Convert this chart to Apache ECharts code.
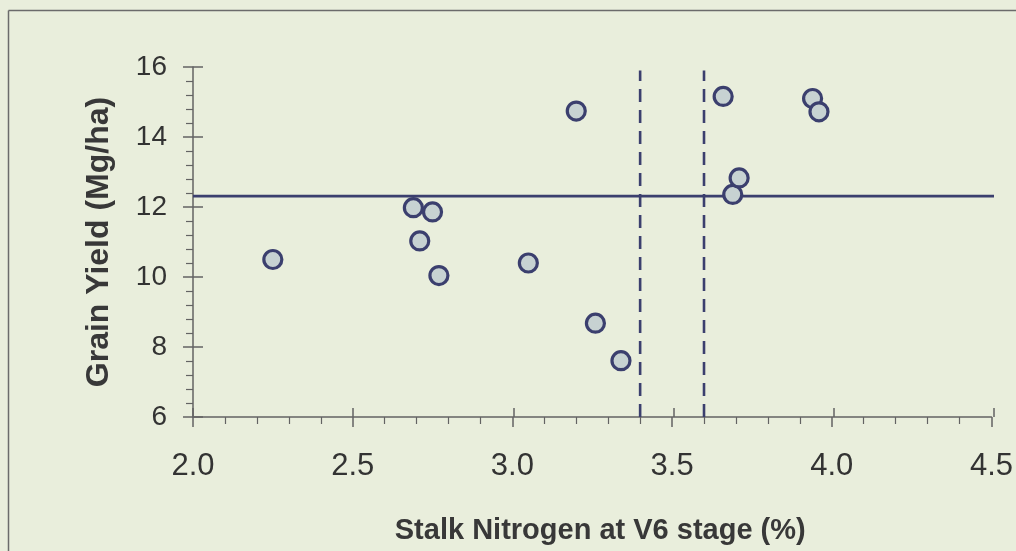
<!DOCTYPE html>
<html>
<head>
<meta charset="utf-8">
<script src="https://cdn.jsdelivr.net/npm/echarts@6/dist/echarts.min.js"></script>
<style>
html,body{margin:0;padding:0;background:#e9eedc;}
#c{width:1016px;height:551px;}
</style>
</head>
<body>
<div id="c"></div>
<script>
// Data
var stalkN = [2.25, 2.69, 2.71, 2.75, 2.77, 3.05, 3.20, 3.26, 3.34, 3.66, 3.69, 3.71, 3.94, 3.96];
var grainYield = [10.5, 11.98, 11.03, 11.86, 10.04, 10.4, 14.74, 8.68, 7.61, 15.16, 12.36, 12.83, 15.1, 14.72];
var meanYield = 12.31;
var criticalN = [3.4, 3.6];
var xTicks = ['2.0', '2.5', '3.0', '3.5', '4.0', '4.5'];
var yTicks = ['6', '8', '10', '12', '14', '16'];

var navy = '#3b3f6e';
var axisGrey = '#636363';
var font = '"Liberation Sans", Arial, sans-serif';

var points = stalkN.map(function (x, i) { return [x, grainYield[i]]; });

var gridRect = { left: 193, top: 67, width: 801, height: 350 };

var series = [
  {
    type: 'line', xAxisIndex: 0, yAxisIndex: 0,
    data: [[2.0, meanYield], [4.525, meanYield]],
    symbol: 'none', clip: false, silent: true,
    lineStyle: { color: navy, width: 2.6 }, z: 3
  }
];
criticalN.forEach(function (v) {
  series.push({
    type: 'line', xAxisIndex: 0, yAxisIndex: 0,
    data: [[v, 6], [v, 15.9]],
    symbol: 'none', silent: true,
    lineStyle: { color: navy, width: 2.6, type: [13, 8] }, z: 3
  });
});
series.push({
  type: 'scatter', xAxisIndex: 0, yAxisIndex: 0,
  data: points,
  symbol: 'circle', symbolSize: 18,
  itemStyle: { color: '#c7d2d2', borderColor: navy, borderWidth: 3.2, opacity: 1 },
  z: 5
});

var chart = echarts.init(document.getElementById('c'), null, { renderer: 'canvas' });
chart.setOption({
  backgroundColor: '#e9eedc',
  animation: false,
  textStyle: { fontFamily: font },
  graphic: [
    { type: 'line', shape: { x1: 8.5, y1: 10.5, x2: 1016, y2: 10.5 }, style: { stroke: '#6b6b6b', lineWidth: 1.5 } },
    { type: 'line', shape: { x1: 8.5, y1: 10.5, x2: 8.5, y2: 551 }, style: { stroke: '#6b6b6b', lineWidth: 1.5 } }
  ],
  grid: [
    Object.assign({ containLabel: false }, gridRect),
    Object.assign({ containLabel: false }, gridRect)
  ],
  xAxis: [
    {
      type: 'value', gridIndex: 0, min: 2.0, max: 4.5, interval: 0.5,
      position: 'bottom',
      axisLine: { show: true, onZero: false, lineStyle: { color: axisGrey, width: 1.5 } },
      axisTick: { show: true, inside: false, length: 10, lineStyle: { color: axisGrey, width: 1.5 } },
      minorTick: { show: true, splitNumber: 5, length: 7, lineStyle: { color: axisGrey, width: 1.2 } },
      splitLine: { show: false },
      axisLabel: {
        margin: 34, fontSize: 31, color: '#333333', fontFamily: font,
        formatter: function (v) { var i = Math.round((v - 2.0) / 0.5); return xTicks[i] || ''; }
      },
      name: 'Stalk Nitrogen at V6 stage (%)',
      nameLocation: 'middle', nameGap: 99,
      nameTextStyle: { fontSize: 29, fontWeight: 'bold', color: '#383838', fontFamily: font, padding: [0, 0, 0, 16] }
    },
    {
      type: 'value', gridIndex: 1, min: 2.0, max: 4.5, interval: 0.5,
      position: 'bottom',
      axisLine: { show: false, onZero: false },
      axisTick: { show: true, inside: true, length: 9, lineStyle: { color: axisGrey, width: 1.5 } },
      axisLabel: { show: false },
      splitLine: { show: false }
    }
  ],
  yAxis: [
    {
      type: 'value', gridIndex: 0, min: 6, max: 16, interval: 2,
      position: 'left',
      axisLine: { show: true, onZero: false, lineStyle: { color: axisGrey, width: 1.5 } },
      axisTick: { show: true, inside: false, length: 10, lineStyle: { color: axisGrey, width: 1.5 } },
      minorTick: { show: true, splitNumber: 5, length: 7, lineStyle: { color: axisGrey, width: 1.2 } },
      splitLine: { show: false },
      axisLabel: {
        margin: 26, fontSize: 28, color: '#333333', fontFamily: font,
        formatter: function (v) { var i = Math.round((v - 6) / 2); return yTicks[i] || ''; }
      },
      name: 'Grain Yield (Mg/ha)',
      nameLocation: 'middle', nameGap: 78,
      nameTextStyle: { fontSize: 32, fontWeight: 'bold', color: '#383838', fontFamily: font }
    },
    {
      type: 'value', gridIndex: 1, min: 6, max: 16, interval: 2,
      position: 'left',
      axisLine: { show: false, onZero: false },
      axisTick: { show: true, inside: true, length: 10, lineStyle: { color: axisGrey, width: 1.5 } },
      axisLabel: { show: false },
      splitLine: { show: false }
    }
  ],
  series: series
});
</script>
</body>
</html>
